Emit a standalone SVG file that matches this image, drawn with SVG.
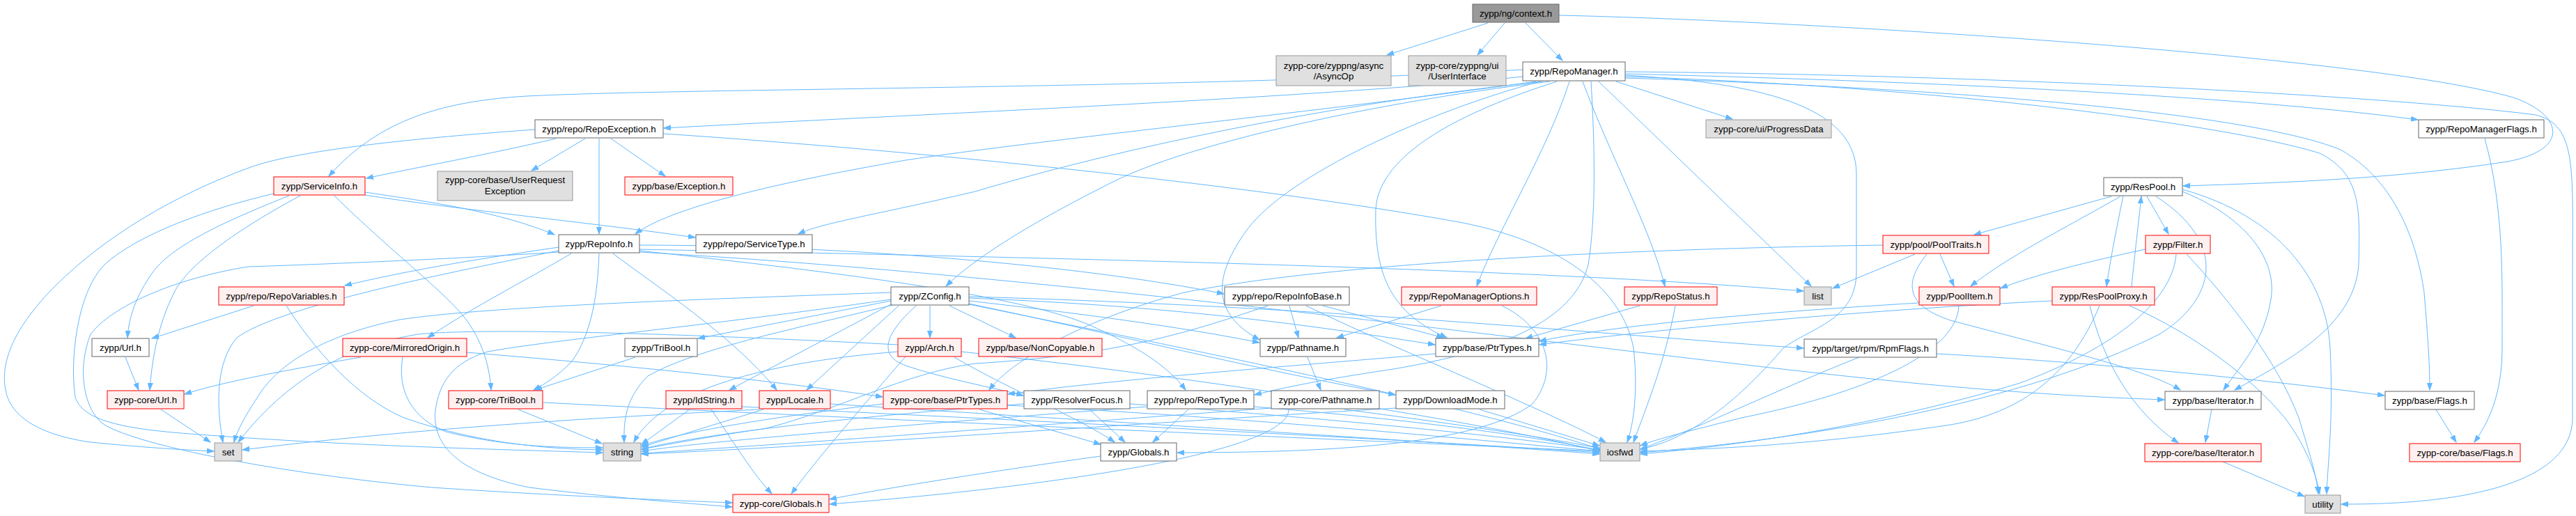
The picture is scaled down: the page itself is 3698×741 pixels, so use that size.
<svg xmlns="http://www.w3.org/2000/svg" width="3698" height="741" viewBox="0 0 3698 741">
<style>
.e{fill:none;stroke:#63B8FF;stroke-width:1;marker-end:url(#arr)}
.w rect{fill:#FFFFFF;stroke:#666666;stroke-width:1}
.r rect{fill:#FFF0F0;stroke:#FF0000;stroke-width:1}
.g rect{fill:#E0E0E0;stroke:#999999;stroke-width:1}
.root rect{fill:#999999;stroke:#666666;stroke-width:1}
text{font-family:"Liberation Sans",Arial,Helvetica,sans-serif;font-size:13.3px;fill:#000000;text-anchor:middle}
</style>
<defs>
<marker id="arr" markerWidth="11" markerHeight="8" refX="10" refY="4" orient="auto" markerUnits="userSpaceOnUse"><path d="M0,0.5 L10,4 L0,7.5 z" fill="#63B8FF" stroke="#63B8FF" stroke-width="1"/></marker>
</defs>
<rect x="0" y="0" width="3698" height="741" fill="#FFFFFF"/>
<g id="connectors">
<path class="e" d="M2136,33 L1991,79"/>
<path class="e" d="M2160,33 L2121,79"/>
<path class="e" d="M2190,33 L2243,87"/>
<path class="e" d="M2238,22 C2600,30 3400,80 3608,140 C3680,165 3690,215 3600,232 C3450,255 3300,262 3134,267"/>
<path class="e" d="M2186,110 C1900,140 1300,165 953,184"/>
<path class="e" d="M2187,100 C1700,128 1000,126 756,138 C640,145 545,170 472,253"/>
<path class="e" d="M2205,117 C1900,160 1500,200 1300,230 C1100,265 960,300 912,336"/>
<path class="e" d="M2215,117 C1900,150 1600,215 1400,275 C1250,310 1180,320 1146,336"/>
<path class="e" d="M2225,117 C1950,150 1700,210 1600,260 C1480,320 1400,370 1358,411"/>
<path class="e" d="M2320,117 L2487,171"/>
<path class="e" d="M2295,117 L2600,411"/>
<path class="e" d="M2272,117 C2310,220 2370,330 2390,411"/>
<path class="e" d="M2253,117 C2220,220 2150,330 2120,411"/>
<path class="e" d="M2235,117 C2100,160 1980,220 1975,300 C1972,400 2000,450 2077,485"/>
<path class="e" d="M2211,117 C2050,160 1850,250 1790,330 C1740,400 1740,450 1808,488"/>
<path class="e" d="M2333,108 C2550,120 2665,160 2665,250 L2665,390 C2665,460 2600,470 2560,500 C2500,570 2430,630 2355,645"/>
<path class="e" d="M2333,106 C2700,115 3200,135 3471,172"/>
<path class="e" d="M2333,110 C2800,125 3200,180 3330,220 C3390,250 3388,300 3386,380 C3380,470 3280,520 3208,560"/>
<path class="e" d="M2333,112 C2900,130 3250,170 3360,215 C3440,260 3470,350 3480,420 C3485,480 3488,520 3488,560"/>
<path class="e" d="M2333,103 C2900,108 3450,140 3640,165 C3700,180 3693,240 3693,400 L3693,600 C3693,690 3550,725 3361,724"/>
<path class="e" d="M2284,117 C2292,250 2288,330 2280,380 C2262,450 2180,500 2000,530 C1900,545 1850,555 1801,567"/>
<path class="e" d="M840,199 L763,245"/>
<path class="e" d="M877,199 L955,253"/>
<path class="e" d="M860,199 L860,336"/>
<path class="e" d="M798,199 C700,222 600,240 526,256"/>
<path class="e" d="M768,186 C600,198 430,215 360,240 C250,280 150,340 80,410 C20,470 0,520 8,560 C15,600 60,625 130,635 C200,642 260,646 307,648"/>
<path class="e" d="M952,192 C1300,215 1800,265 2100,320 C2250,350 2330,420 2345,500 C2352,560 2345,610 2336,635"/>
<path class="e" d="M524,276 C620,290 720,305 796,337"/>
<path class="e" d="M524,280 C650,300 850,320 998,341"/>
<path class="e" d="M415,281 C330,315 250,350 220,390 C195,425 185,455 183,485"/>
<path class="e" d="M431,281 C340,330 270,380 250,420 C225,470 218,520 215,560"/>
<path class="e" d="M393,278 C300,300 200,335 150,380 C110,420 100,520 108,570 C120,610 200,618 300,625 C500,640 700,645 865,650"/>
<path class="e" d="M480,281 C560,360 640,420 670,460 C695,495 703,530 705,560"/>
<path class="e" d="M802,355 C700,370 600,385 495,410"/>
<path class="e" d="M820,364 C760,400 680,440 614,485"/>
<path class="e" d="M860,364 C858,420 850,480 820,520 C800,540 785,550 766,560"/>
<path class="e" d="M880,364 C940,410 1050,480 1115,560"/>
<path class="e" d="M918,352 C1200,352 1550,380 1757,422"/>
<path class="e" d="M918,360 C1150,385 1450,420 1560,465 C1640,500 1680,530 1702,560"/>
<path class="e" d="M918,358 C1500,370 2200,385 2589,418"/>
<path class="e" d="M802,360 C650,390 400,440 340,485 C310,520 310,580 320,635"/>
<path class="e" d="M918,362 C1600,400 2400,520 2800,555 C2950,568 3050,572 3107,574"/>
<path class="e" d="M802,362 C650,372 450,380 356,383 C250,400 160,440 130,480 C110,530 120,590 150,610 C200,640 400,680 620,700 C800,712 950,718 1051,722"/>
<path class="e" d="M912,513 L768,560"/>
<path class="e" d="M364,439 L218,486"/>
<path class="e" d="M411,439 C450,500 510,570 580,600 C680,635 780,645 865,646"/>
<path class="e" d="M180,513 L199,560"/>
<path class="e" d="M231,588 L302,635"/>
<path class="e" d="M518,513 C420,530 320,548 265,566"/>
<path class="e" d="M670,506 C900,525 1100,545 1267,570"/>
<path class="e" d="M578,513 C570,560 590,600 640,620 C720,640 790,643 865,643"/>
<path class="e" d="M744,588 L864,637"/>
<path class="e" d="M780,578 C1200,600 1900,630 2296,648"/>
<path class="e" d="M990,588 L921,638"/>
<path class="e" d="M1021,588 C1050,630 1080,680 1108,709"/>
<path class="e" d="M1065,584 C1400,600 2000,630 2296,650"/>
<path class="e" d="M1096,588 L921,642"/>
<path class="e" d="M1192,580 C1500,600 2000,630 2296,652"/>
<path class="e" d="M1090,588 C850,600 600,615 348,646"/>
<path class="e" d="M1290,439 L1158,560"/>
<path class="e" d="M1281,436 L1047,560"/>
<path class="e" d="M1279,432 L1002,486"/>
<path class="e" d="M1282,438 C1150,470 1000,500 930,540 C900,570 895,600 896,635"/>
<path class="e" d="M1279,420 C1000,430 700,440 574,459 C470,480 400,520 370,570 C350,600 340,620 336,635"/>
<path class="e" d="M1335,439 L1335,485"/>
<path class="e" d="M1363,439 L1458,485"/>
<path class="e" d="M1315,439 C1270,480 1260,510 1300,525 C1360,545 1420,555 1469,568"/>
<path class="e" d="M1391,432 C1550,450 1700,470 1808,492"/>
<path class="e" d="M1391,428 C1700,440 1900,470 2060,495"/>
<path class="e" d="M1391,436 C1600,480 1800,530 2003,567"/>
<path class="e" d="M1391,426 C1900,440 2300,480 2589,500"/>
<path class="e" d="M1391,437 C1700,500 2100,580 2297,645"/>
<path class="e" d="M1279,430 C1000,470 800,487 700,505 C650,520 630,550 625,590 C620,640 660,680 760,700 C880,715 980,722 1051,728"/>
<path class="e" d="M1300,512 C1250,570 1180,650 1136,709"/>
<path class="e" d="M1289,495 C1000,480 700,470 600,480 C480,500 400,560 342,635"/>
<path class="e" d="M1289,505 C1100,520 950,560 910,635"/>
<path class="e" d="M1380,505 C1700,540 2100,600 2297,648"/>
<path class="e" d="M1370,513 C1450,560 1550,600 1600,635"/>
<path class="e" d="M1851,439 L1864,485"/>
<path class="e" d="M1899,439 L2072,485"/>
<path class="e" d="M1875,439 C2000,500 2200,580 2305,635"/>
<path class="e" d="M1820,439 C1700,480 1600,510 1400,522 C1300,535 1200,590 1100,615 C1000,630 950,640 921,645"/>
<path class="e" d="M1877,513 L1896,560"/>
<path class="e" d="M2069,439 L1919,485"/>
<path class="e" d="M2156,439 C2220,470 2240,530 2200,580 C2120,640 1900,650 1690,650"/>
<path class="e" d="M2354,439 L2190,486"/>
<path class="e" d="M2405,439 C2390,520 2365,580 2345,635"/>
<path class="e" d="M2061,508 C1800,530 1600,545 1447,566"/>
<path class="e" d="M1268,580 C1100,600 980,620 921,640"/>
<path class="e" d="M1446,582 C1800,600 2100,630 2297,648"/>
<path class="e" d="M1406,588 L1580,638"/>
<path class="e" d="M1564,588 L1615,635"/>
<path class="e" d="M1622,580 C1900,600 2150,625 2297,646"/>
<path class="e" d="M1470,580 C1200,600 1000,625 921,645"/>
<path class="e" d="M1706,588 L1655,635"/>
<path class="e" d="M1800,584 C2000,600 2200,625 2297,647"/>
<path class="e" d="M1647,584 C1300,610 1000,635 921,648"/>
<path class="e" d="M1580,655 C1400,680 1250,705 1191,717"/>
<path class="e" d="M1930,588 C2100,610 2230,630 2297,644"/>
<path class="e" d="M1825,586 C1500,610 1100,640 921,651"/>
<path class="e" d="M1850,588 C1850,650 1500,700 1191,724"/>
<path class="e" d="M2124,588 L2296,640"/>
<path class="e" d="M2004,586 C1600,610 1200,640 921,652"/>
<path class="e" d="M2780,508 C3000,520 3250,545 3423,568"/>
<path class="e" d="M2669,513 C2550,560 2450,610 2355,645"/>
<path class="e" d="M2749,365 L2631,414"/>
<path class="e" d="M2785,365 L2805,411"/>
<path class="e" d="M2703,352 C2300,358 1900,380 1700,420 C1550,460 1450,520 1420,560"/>
<path class="e" d="M2766,365 C2730,410 2740,440 2800,460 C2950,500 3080,530 3130,560"/>
<path class="e" d="M2812,439 C2810,500 2700,560 2500,600 C2420,620 2380,630 2355,640"/>
<path class="e" d="M2755,435 C2500,450 2300,470 2210,490"/>
<path class="e" d="M3060,412 C3065,360 3070,320 3074,282"/>
<path class="e" d="M3048,281 C3040,320 3030,370 3024,411"/>
<path class="e" d="M2946,432 C2700,444 2400,470 2210,495"/>
<path class="e" d="M3014,439 C2980,520 2920,590 2800,610 C2600,640 2450,645 2355,648"/>
<path class="e" d="M3057,439 C3150,480 3230,540 3280,600 C3310,640 3325,680 3330,709"/>
<path class="e" d="M3000,439 C3020,520 3060,590 3127,636"/>
<path class="e" d="M3031,282 L2834,337"/>
<path class="e" d="M3044,282 C2960,330 2880,370 2829,411"/>
<path class="e" d="M3082,282 L3113,336"/>
<path class="e" d="M3133,275 C3220,310 3270,370 3260,430 C3250,490 3220,520 3192,560"/>
<path class="e" d="M3133,272 C3270,310 3340,400 3345,500 C3350,600 3342,660 3340,709"/>
<path class="e" d="M3095,282 C3200,350 3180,430 3100,480 C2900,580 2600,630 2355,650"/>
<path class="e" d="M3080,358 C3000,375 2920,395 2872,414"/>
<path class="e" d="M3124,365 C3120,420 3060,490 2900,550 C2700,610 2500,640 2355,652"/>
<path class="e" d="M3139,365 C3200,430 3270,520 3300,600 C3315,650 3325,680 3328,709"/>
<path class="e" d="M3175,588 L3166,635"/>
<path class="e" d="M3497,588 L3526,635"/>
<path class="e" d="M3567,199 C3595,300 3592,400 3592,500 C3592,570 3570,610 3552,635"/>
<path class="e" d="M3191,663 L3308,713"/>
</g>
<g id="n_context" class="root"><rect x="2114" y="6" width="124" height="26"/><text x="2176" y="23.5">zypp/ng/context.h</text></g>
<g id="n_asyncop" class="g"><rect x="1832" y="80" width="165" height="43"/><text x="1914.5" y="98.5">zypp-core/zyppng/async</text><text x="1914.5" y="113.5">/AsyncOp</text></g>
<g id="n_userinterface" class="g"><rect x="2022" y="80" width="140" height="43"/><text x="2092" y="98.5">zypp-core/zyppng/ui</text><text x="2092" y="113.5">/UserInterface</text></g>
<g id="n_repomanager" class="w"><rect x="2186" y="89" width="147" height="27"/><text x="2259.5" y="107">zypp/RepoManager.h</text></g>
<g id="n_repoexception" class="w"><rect x="768" y="172" width="184" height="26"/><text x="860" y="189.5">zypp/repo/RepoException.h</text></g>
<g id="n_progressdata" class="g"><rect x="2449" y="172" width="180" height="26"/><text x="2539" y="189.5">zypp-core/ui/ProgressData</text></g>
<g id="n_repomanagerflags" class="w"><rect x="3472" y="172" width="180" height="26"/><text x="3562" y="189.5">zypp/RepoManagerFlags.h</text></g>
<g id="n_serviceinfo" class="r"><rect x="393" y="254" width="131" height="26"/><text x="458.5" y="271.5">zypp/ServiceInfo.h</text></g>
<g id="n_userrequestexception" class="g"><rect x="628" y="246" width="194" height="42"/><text x="725" y="263">zypp-core/base/UserRequest</text><text x="725" y="279">Exception</text></g>
<g id="n_exception" class="r"><rect x="897" y="254" width="155" height="26"/><text x="974.5" y="271.5">zypp/base/Exception.h</text></g>
<g id="n_respool" class="w"><rect x="3020" y="255" width="113" height="26"/><text x="3076.5" y="272.5">zypp/ResPool.h</text></g>
<g id="n_repoinfo" class="w"><rect x="802" y="337" width="116" height="26"/><text x="860" y="354.5">zypp/RepoInfo.h</text></g>
<g id="n_servicetype" class="w"><rect x="999" y="337" width="167" height="26"/><text x="1082.5" y="354.5">zypp/repo/ServiceType.h</text></g>
<g id="n_pooltraits" class="r"><rect x="2703" y="338" width="152" height="26"/><text x="2779" y="355.5">zypp/pool/PoolTraits.h</text></g>
<g id="n_filter" class="r"><rect x="3080" y="338" width="93" height="26"/><text x="3126.5" y="355.5">zypp/Filter.h</text></g>
<g id="n_repovariables" class="r"><rect x="314" y="412" width="180" height="26"/><text x="404" y="429.5">zypp/repo/RepoVariables.h</text></g>
<g id="n_zconfig" class="w"><rect x="1279" y="412" width="112" height="26"/><text x="1335" y="429.5">zypp/ZConfig.h</text></g>
<g id="n_repoinfobase" class="w"><rect x="1758" y="412" width="179" height="26"/><text x="1847.5" y="429.5">zypp/repo/RepoInfoBase.h</text></g>
<g id="n_repomanageroptions" class="r"><rect x="2012" y="412" width="194" height="26"/><text x="2109" y="429.5">zypp/RepoManagerOptions.h</text></g>
<g id="n_repostatus" class="r"><rect x="2332" y="412" width="133" height="26"/><text x="2398.5" y="429.5">zypp/RepoStatus.h</text></g>
<g id="n_list" class="g"><rect x="2590" y="412" width="39" height="26"/><text x="2609.5" y="429.5">list</text></g>
<g id="n_poolitem" class="r"><rect x="2755" y="412" width="116" height="26"/><text x="2813" y="429.5">zypp/PoolItem.h</text></g>
<g id="n_respoolproxy" class="r"><rect x="2946" y="412" width="147" height="26"/><text x="3019.5" y="429.5">zypp/ResPoolProxy.h</text></g>
<g id="n_url" class="w"><rect x="132" y="486" width="82" height="26"/><text x="173" y="503.5">zypp/Url.h</text></g>
<g id="n_mirroredorigin" class="r"><rect x="492" y="486" width="178" height="26"/><text x="581" y="503.5">zypp-core/MirroredOrigin.h</text></g>
<g id="n_tribool" class="w"><rect x="897" y="486" width="104" height="26"/><text x="949" y="503.5">zypp/TriBool.h</text></g>
<g id="n_arch" class="r"><rect x="1289" y="486" width="91" height="26"/><text x="1334.5" y="503.5">zypp/Arch.h</text></g>
<g id="n_noncopyable" class="r"><rect x="1405" y="486" width="177" height="26"/><text x="1493.5" y="503.5">zypp/base/NonCopyable.h</text></g>
<g id="n_pathname" class="w"><rect x="1809" y="486" width="123" height="26"/><text x="1870.5" y="503.5">zypp/Pathname.h</text></g>
<g id="n_baseptrtypes" class="w"><rect x="2061" y="486" width="148" height="26"/><text x="2135" y="503.5">zypp/base/PtrTypes.h</text></g>
<g id="n_rpmflags" class="w"><rect x="2590" y="487" width="190" height="26"/><text x="2685" y="504.5">zypp/target/rpm/RpmFlags.h</text></g>
<g id="n_coreurl" class="r"><rect x="154" y="561" width="110" height="26"/><text x="209" y="578.5">zypp-core/Url.h</text></g>
<g id="n_coretribool" class="r"><rect x="644" y="561" width="135" height="26"/><text x="711.5" y="578.5">zypp-core/TriBool.h</text></g>
<g id="n_idstring" class="r"><rect x="956" y="561" width="109" height="26"/><text x="1010.5" y="578.5">zypp/IdString.h</text></g>
<g id="n_locale" class="r"><rect x="1090" y="561" width="102" height="26"/><text x="1141" y="578.5">zypp/Locale.h</text></g>
<g id="n_coreptrtypes" class="r"><rect x="1268" y="561" width="178" height="26"/><text x="1357" y="578.5">zypp-core/base/PtrTypes.h</text></g>
<g id="n_resolverfocus" class="w"><rect x="1470" y="561" width="152" height="26"/><text x="1546" y="578.5">zypp/ResolverFocus.h</text></g>
<g id="n_repotype" class="w"><rect x="1647" y="561" width="153" height="26"/><text x="1723.5" y="578.5">zypp/repo/RepoType.h</text></g>
<g id="n_corepathname" class="w"><rect x="1825" y="561" width="155" height="26"/><text x="1902.5" y="578.5">zypp-core/Pathname.h</text></g>
<g id="n_downloadmode" class="w"><rect x="2004" y="561" width="156" height="26"/><text x="2082" y="578.5">zypp/DownloadMode.h</text></g>
<g id="n_baseiterator" class="w"><rect x="3108" y="562" width="138" height="26"/><text x="3177" y="579.5">zypp/base/Iterator.h</text></g>
<g id="n_baseflags" class="w"><rect x="3424" y="562" width="128" height="26"/><text x="3488" y="579.5">zypp/base/Flags.h</text></g>
<g id="n_set" class="g"><rect x="308" y="636" width="39" height="26"/><text x="327.5" y="653.5">set</text></g>
<g id="n_string" class="g"><rect x="866" y="636" width="54" height="26"/><text x="893" y="653.5">string</text></g>
<g id="n_globals" class="w"><rect x="1580" y="636" width="109" height="26"/><text x="1634.5" y="653.5">zypp/Globals.h</text></g>
<g id="n_iosfwd" class="g"><rect x="2297" y="636" width="57" height="26"/><text x="2325.5" y="653.5">iosfwd</text></g>
<g id="n_coreiterator" class="r"><rect x="3079" y="637" width="167" height="26"/><text x="3162.5" y="654.5">zypp-core/base/Iterator.h</text></g>
<g id="n_coreflags" class="r"><rect x="3459" y="637" width="159" height="26"/><text x="3538.5" y="654.5">zypp-core/base/Flags.h</text></g>
<g id="n_coreglobals" class="r"><rect x="1052" y="710" width="138" height="26"/><text x="1121" y="727.5">zypp-core/Globals.h</text></g>
<g id="n_utility" class="g"><rect x="3309" y="711" width="51" height="26"/><text x="3334.5" y="728.5">utility</text></g>
</svg>
